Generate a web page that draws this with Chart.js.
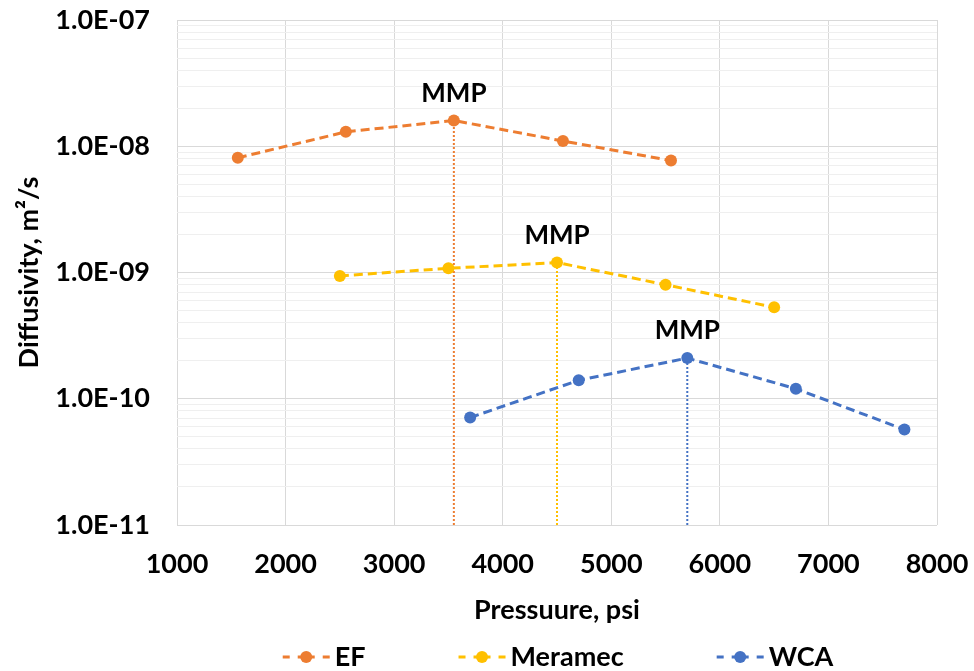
<!DOCTYPE html>
<html><head><meta charset="utf-8">
<script src="https://cdn.jsdelivr.net/npm/chart.js@4.4.0/dist/chart.umd.min.js"></script>
<style>html,body{margin:0;padding:0;background:#fff}#wrap{width:974px;height:671px}</style>
</head><body><div id="wrap"><canvas id="c" width="974" height="671"></canvas></div>
<script>
// ---- data ----
const seriesNames = ['EF', 'Meramec', 'WCA'];
const seriesColors = ['#ED7D31', '#FFC000', '#4472C4'];
const efPressure = [1560, 2555, 3550, 4555, 5550];
const efDiffusivity = [8.1e-9, 1.3e-8, 1.6e-8, 1.1e-8, 7.7e-9];
const meramecPressure = [2500, 3500, 4500, 5500, 6500];
const meramecDiffusivity = [9.4e-10, 1.08e-9, 1.2e-9, 8.0e-10, 5.3e-10];
const wcaPressure = [3700, 4700, 5700, 6700, 7700];
const wcaDiffusivity = [7.1e-11, 1.4e-10, 2.1e-10, 1.2e-10, 5.7e-11];
const mmpPressure = [3550, 4500, 5700];
const mmpDiffusivity = [1.6e-8, 1.2e-9, 2.1e-10];
const mmpLabel = 'MMP';
const xTicks = [1000, 2000, 3000, 4000, 5000, 6000, 7000, 8000];
const yDecades = [-11, -10, -9, -8, -7];
const yTickLabels = ['1.0E-11', '1.0E-10', '1.0E-09', '1.0E-08', '1.0E-07'];
const xTitle = 'Pressuure, psi';
const yTitle = 'Diffusivity, m\u00B2/s';

const FONT = 'Lato';
const pressures = [efPressure, meramecPressure, wcaPressure];
const diffs = [efDiffusivity, meramecDiffusivity, wcaDiffusivity];

const datasets = [];
seriesNames.forEach((name, i) => {
  datasets.push({
    label: name,
    data: pressures[i].map((x, k) => ({x: x, y: diffs[i][k]})),
    borderColor: seriesColors[i],
    backgroundColor: seriesColors[i],
    borderWidth: 3,
    borderDash: [9, 5],
    pointRadius: 6,
    pointBorderWidth: 0,
    pointBackgroundColor: seriesColors[i],
    tension: 0,
    order: i
  });
});
mmpPressure.forEach((x, i) => {
  datasets.push({
    label: 'mmp' + i,
    data: [{x: x, y: Math.pow(10, yDecades[0])}, {x: x, y: mmpDiffusivity[i]}],
    borderColor: seriesColors[i],
    borderWidth: 2,
    borderDash: [2, 2],
    pointRadius: 0,
    tension: 0,
    order: 10
  });
});

function isMajor(v) {
  const l = Math.log10(v);
  return Math.abs(l - Math.round(l)) < 1e-6;
}
function zeroPad(s) { s.paddingTop = 0; s.paddingBottom = 0; s.paddingLeft = 0; s.paddingRight = 0; }

const overlay = {
  id: 'overlay',
  afterDatasetsDraw(chart) {
    const ctx = chart.ctx;
    const xs = chart.scales.x, ys = chart.scales.y;
    ctx.save();
    ctx.font = 'bold 26px ' + FONT;
    ctx.fillStyle = '#000';
    ctx.textAlign = 'center';
    ctx.textBaseline = 'middle';
    mmpPressure.forEach((x, i) => {
      const px = xs.getPixelForValue(x);
      const py = ys.getPixelForValue(mmpDiffusivity[i]);
      ctx.fillText(mmpLabel, px, py - 27);
    });
    ctx.restore();
  },
  afterDraw(chart) {
    const ctx = chart.ctx;
    ctx.save();
    ctx.font = 'bold 27px ' + FONT;
    const markerW = 47, gap1 = 5, gapItem = 93;
    const widths = seriesNames.map(n => ctx.measureText(n).width);
    let total = 0;
    widths.forEach(w => total += markerW + gap1 + w);
    total += gapItem * (seriesNames.length - 1);
    let x = 558 - total / 2;
    const y = 657;
    seriesNames.forEach((n, i) => {
      ctx.strokeStyle = seriesColors[i];
      ctx.fillStyle = seriesColors[i];
      ctx.lineWidth = 3;
      ctx.beginPath();
      [[0, 7], [15, 32], [40, 47]].forEach(s => {
        ctx.moveTo(x + s[0], y); ctx.lineTo(x + s[1], y);
      });
      ctx.stroke();
      ctx.beginPath();
      ctx.arc(x + markerW / 2, y, 6, 0, Math.PI * 2);
      ctx.fill();
      ctx.fillStyle = '#000';
      ctx.textAlign = 'left';
      ctx.textBaseline = 'middle';
      ctx.fillText(n, x + markerW + gap1, y);
      x += markerW + gap1 + widths[i] + gapItem;
    });
    ctx.restore();
  }
};

new Chart(document.getElementById('c'), {
  type: 'line',
  data: {datasets: datasets},
  plugins: [overlay],
  options: {
    responsive: false,
    animation: false,
    devicePixelRatio: 1,
    layout: {padding: {left: 0, right: 37, top: 20, bottom: 41}},
    plugins: {legend: {display: false}, tooltip: {enabled: false}},
    scales: {
      x: {
        type: 'linear', min: xTicks[0], max: xTicks[xTicks.length - 1],
        afterBuildTicks: s => { s.ticks = xTicks.map(v => ({value: v})); },
        ticks: {callback: v => String(v), font: {family: FONT, size: 27, weight: 'bold'}, color: '#000', padding: 23, autoSkip: false, maxRotation: 0},
        grid: {color: '#d9d9d9', lineWidth: 1, drawTicks: false},
        border: {display: false},
        title: {display: true, text: xTitle, color: '#000', font: {family: FONT, size: 27, weight: 'bold'}, padding: {top: 0, bottom: 4}},
        afterFit: s => { s.height = 105; zeroPad(s); }
      },
      y: {
        type: 'logarithmic',
        min: Math.pow(10, yDecades[0]), max: Math.pow(10, yDecades[yDecades.length - 1]),
        afterBuildTicks: s => {
          const t = [];
          yDecades.forEach((e, i) => {
            if (i === yDecades.length - 1) { t.push({value: Math.pow(10, e)}); return; }
            for (let m = 1; m <= 9; m++) t.push({value: m * Math.pow(10, e)});
          });
          s.ticks = t;
        },
        ticks: {
          callback: v => {
            if (!isMajor(v)) return '';
            const e = Math.round(Math.log10(v));
            return yTickLabels[yDecades.indexOf(e)];
          },
          font: {family: FONT, size: 27, weight: 'bold'}, color: '#000', padding: 27, autoSkip: false
        },
        grid: {
          color: ctx => (ctx.tick && isMajor(ctx.tick.value)) ? '#d9d9d9' : '#efefef',
          lineWidth: 1, drawTicks: false
        },
        border: {display: false},
        title: {display: true, text: yTitle, color: '#000', font: {family: FONT, size: 27, weight: 'bold'}, padding: {top: 13, bottom: 0}},
        afterFit: s => { s.width = 177; zeroPad(s); }
      }
    }
  }
});
</script>
</body></html>
